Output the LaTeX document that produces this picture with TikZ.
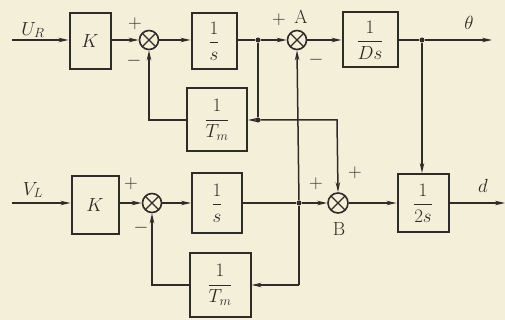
\RequirePackage{fix-cm}
\documentclass[tikz,border=0pt]{standalone}
\usepackage{amsmath}
\usetikzlibrary{arrows.meta}
\definecolor{paper}{HTML}{F4EFD9}
\definecolor{ink}{HTML}{2E2B28}
\begin{document}
\begin{tikzpicture}[x=1pt,y=-1pt,
  every node/.style={font=\fontsize{19}{22}\selectfont, text=ink},
  blk/.style={draw=ink, line width=2pt, inner sep=0pt},
  sumnode/.style={circle, draw=ink, line width=1.6pt, minimum size=19pt, inner sep=0pt,
    path picture={\draw[ink, line width=1.2pt]
      (path picture bounding box.north west) -- (path picture bounding box.south east)
      (path picture bounding box.north east) -- (path picture bounding box.south west);}},
  dot/.style={circle, fill=ink, minimum size=5pt, inner sep=0pt},
  lbl/.style={inner sep=0pt},
  sig/.style={draw=ink, line width=1.5pt},
  arr/.style={sig, -{Stealth[length=10pt,width=4.5pt]}}]
\fill[paper] (0,0) rectangle (505,320);
\useasboundingbox (0,0) rectangle (505,320);

% top row
\coordinate (inU) at (12,40);
\node[blk, minimum width=41pt, minimum height=56pt] (K1) at (90,41) {$K$};
\node[sumnode] (S1) at (149,40) {};
\node[blk, minimum width=45pt, minimum height=56pt] (I1) at (214,41) {$\dfrac{1}{s}$};
\node[dot] (J1) at (258,40) {};
\node[blk, minimum width=60pt, minimum height=63pt] (T1) at (217,120) {$\dfrac{1}{T_m}$};
\node[dot] (J2) at (258,120) {};
\node[sumnode] (SA) at (297,40) {};
\node[blk, minimum width=55pt, minimum height=55pt] (D) at (370,40) {$\dfrac{1}{Ds}$};
\node[dot] (J3) at (422,40) {};
\coordinate (outT) at (492,40);
\coordinate (C1) at (337,120);

% bottom row
\coordinate (inV) at (12,203);
\node[blk, minimum width=47pt, minimum height=58pt] (K2) at (95,205) {$K$};
\node[sumnode] (S2) at (152,203) {};
\node[blk, minimum width=50pt, minimum height=59pt] (I2) at (217,203) {$\dfrac{1}{s}$};
\node[dot] (J4) at (299,203) {};
\node[blk, minimum width=61pt, minimum height=64pt] (T2) at (220,285) {$\dfrac{1}{T_m}$};
\coordinate (C2) at (299,285);
\node[sumnode, minimum size=20pt] (SB) at (338,203) {};
\node[blk, minimum width=51pt, minimum height=58pt] (F) at (423,203) {$\dfrac{1}{2s}$};
\coordinate (outD) at (505,203);

% labels
\node[lbl] (LU) at (33,30) {$U_R$};
\node[lbl] (LV) at (33,190) {$V_L$};
\node[lbl] (LT) at (469,23) {$\theta$};
\node[lbl] (Ld) at (483,186) {$d$};
\node[lbl] (p1) at (135,24) {$+$};
\node[lbl] (m1) at (134,61) {$-$};
\node[lbl] (p2) at (279,20) {$+$};
\node[lbl] (LA) at (301,17) {A};
\node[lbl] (m2) at (316,60) {$-$};
\node[lbl] (p3) at (131,184) {$+$};
\node[lbl] (m3) at (141,228) {$-$};
\node[lbl] (p4) at (316,184) {$+$};
\node[lbl] (p5) at (355,173) {$+$};
\node[lbl] (LB) at (339,229) {B};

% top connectors
\draw[arr] (inU) -- (K1.west |- inU);
\draw[arr] (K1.east |- S1) -- (S1);
\draw[arr] (S1) -- (I1.west |- S1);
\draw[sig] (I1.east |- J1) -- (J1);
\draw[arr] (J1) -- (SA);
\draw[arr] (SA) -- (D.west |- SA);
\draw[sig] (D.east |- J3) -- (J3);
\draw[arr] (J3) -- (outT);
\draw[sig] (J1) -- (J2);
\draw[arr] (J2) -- (T1.east |- J2);
\draw[arr] (T1.west) -| (S1.south);
\draw[arr] (J2) -- (C1) -- (SB.north);
\draw[arr] (J3) -- (F.north -| J3);

% bottom connectors
\draw[arr] (inV) -- (K2.west |- inV);
\draw[arr] (K2.east |- S2) -- (S2);
\draw[arr] (S2) -- (I2.west |- S2);
\draw[sig] (I2.east |- J4) -- (J4);
\draw[arr] (J4) -- (SB);
\draw[arr] (J4) -- (SA.south);
\draw[sig] (J4) -- (C2);
\draw[arr] (C2) -- (T2.east |- C2);
\draw[arr] (T2.west) -| (S2.south);
\draw[arr] (SB) -- (F.west |- SB);
\draw[arr] (F.east |- outD) -- (outD);
\end{tikzpicture}
\end{document}
